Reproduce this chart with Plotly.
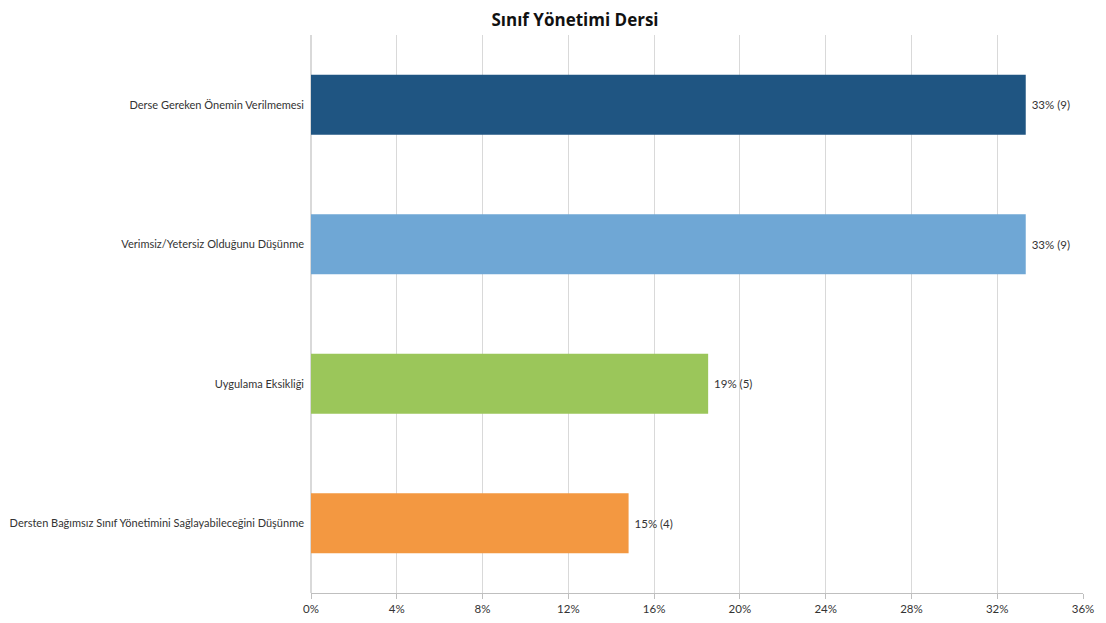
import plotly.graph_objects as go

categories = [
    "Derse Gereken Önemin Verilmemesi",
    "Verimsiz/Yetersiz Olduğunu Düşünme",
    "Uygulama Eksikliği",
    "Dersten Bağımsız Sınıf Yönetimini Sağlayabileceğini Düşünme",
]
percentages = [33.33, 33.33, 18.52, 14.81]
counts = [9, 9, 5, 4]
labels = ["33% (9)", "33% (9)", "19% (5)", "15% (4)"]
colors = ["#1F5582", "#6FA7D5", "#9BC65A", "#F39841"]
tick_vals = [0, 4, 8, 12, 16, 20, 24, 28, 32, 36]
tick_text = [f"{v}%" for v in tick_vals]

font_family = "Lato, Open Sans, sans-serif"

# page body has an 8px margin, so the figure is sized/offset to compensate
W, H = 1098, 615

fig = go.Figure(go.Bar(
    x=percentages,
    y=categories,
    orientation="h",
    marker=dict(color=colors, line=dict(width=0)),
    width=0.43,
    text=[" " + t for t in labels],
    textposition="outside",
    textfont=dict(size=11.5, color="#333333", family=font_family),
    cliponaxis=False,
    hoverinfo="skip",
))

fig.update_layout(
    width=W,
    height=H,
    margin=dict(l=303, r=23, t=27, b=30, autoexpand=False),
    paper_bgcolor="white",
    plot_bgcolor="white",
    title=dict(
        text="<b>Sınıf Yönetimi Dersi</b>",
        x=567 / W,
        xanchor="center",
        xref="container",
        yref="container",
        y=1 - 12 / H,
        yanchor="middle",
        font=dict(size=17, color="#111111", family="Open Sans, sans-serif"),
    ),
    showlegend=False,
    font=dict(family=font_family, color="#333333"),
)

fig.update_xaxes(
    range=[0, 36],
    tickvals=tick_vals,
    ticktext=tick_text,
    showgrid=True,
    gridcolor="#D9D9D9",
    gridwidth=1,
    zeroline=True,
    zerolinecolor="#D9D9D9",
    showline=True,
    linecolor="#BFBFBF",
    ticks="outside",
    ticklen=5,
    tickcolor="#BFBFBF",
    tickfont=dict(size=11.5, color="#333333", family=font_family),
    automargin=False,
    fixedrange=True,
)

fig.update_yaxes(
    autorange="reversed",
    showgrid=False,
    showline=False,
    ticks="",
    ticklabelstandoff=6,
    tickfont=dict(size=11, color="#333333", family=font_family),
    automargin=False,
    fixedrange=True,
)

fig.write_html("out.html")
